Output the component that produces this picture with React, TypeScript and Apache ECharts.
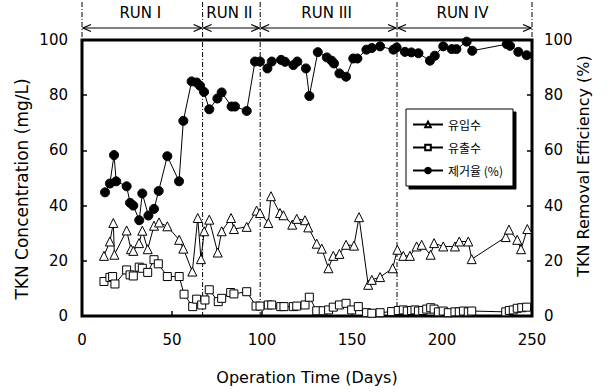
import { useEffect, useRef } from "react";
import * as echarts from "echarts";

const influentDays = [12.2, 15.5, 17.4, 18, 24.8, 27.2, 28.5, 31.7, 33.5, 36.5, 40, 42.8, 47.4, 54, 56.3, 61.3, 64.3, 66.1, 67.9, 70.7, 75.4, 77.6, 82.8, 84.4, 91.5, 97, 98.9, 103.5, 105, 110, 111.9, 116.8, 119.3, 123.9, 125.7, 130.4, 133.2, 136.9, 139.6, 143, 146.7, 151.1, 153.9, 159, 161, 165.6, 172.6, 175.2, 178.5, 182.2, 185.9, 188.7, 193.7, 195.6, 200.7, 207.2, 209.6, 214.6, 216.5, 235.4, 237.2, 241.8, 243.9, 247.4];
const influentValues = [21.8, 27, 33.7, 22.2, 31, 24.2, 23.6, 26.4, 30.9, 24.2, 32.7, 33.9, 32.5, 27.6, 24.4, 16.1, 35.5, 20.6, 30.7, 34.9, 23, 30.7, 35.5, 31.5, 32.3, 38.2, 37.3, 33.7, 43.4, 37.3, 36.5, 33.1, 35.2, 34.7, 32.1, 26.2, 24.4, 17.3, 21.8, 22.5, 25.8, 25.5, 35.8, 11.3, 13.1, 14.1, 17.3, 24, 21.8, 21.8, 25.2, 25.8, 22.2, 26.4, 25.2, 25.2, 27, 27, 20.6, 28.6, 31.3, 27.6, 24.2, 31.5];

const effluentDays = [12.2, 15.5, 17, 18.3, 24.8, 26.7, 28.5, 31.8, 33.5, 36.5, 40, 42.4, 47.4, 54, 56.7, 61.5, 63.7, 66.5, 68.3, 70.7, 75.7, 77.6, 82.6, 84.4, 91.5, 96.7, 98.9, 103.5, 105.4, 110.4, 112.2, 117.4, 119.3, 123.9, 126.3, 130.4, 134, 137, 139.6, 143, 146.7, 149.8, 153.5, 158.1, 161, 165.6, 172, 175.7, 178.5, 180.7, 183.1, 185, 186.9, 189.3, 191.5, 193.7, 195.6, 198, 200.7, 203.5, 207.2, 209.6, 211.9, 214.6, 216.5, 235.4, 237.4, 239.6, 241.8, 244.3, 247];
const effluentValues = [12.5, 14, 14.3, 11.6, 16.7, 14.9, 14.5, 17.7, 17.3, 15.8, 20.4, 18.9, 14.3, 14.3, 7.9, 3.4, 6.1, 4, 5.8, 9.5, 5.2, 6.4, 8.5, 8, 8.8, 3.6, 3.6, 4, 4, 3.4, 3.4, 3.4, 3.6, 4, 6.8, 1.9, 1.9, 2.2, 3.2, 4, 4.6, 2.2, 3.4, 1.2, 1, 1.2, 1.6, 2, 2.2, 1.8, 2, 2.2, 1.8, 2, 2.5, 3, 2.5, 1.5, 1.8, 1.2, 1.5, 1.5, 1.8, 1.5, 1.8, 1.5, 2, 2.2, 2.8, 3, 3.2];

const removalDays = [12.8, 15.5, 17.8, 19, 24.8, 26.7, 28.5, 31.8, 33.5, 36.9, 40, 42.6, 47.4, 53.9, 56.3, 60.9, 63.7, 65.6, 67.8, 70.7, 75.2, 77.6, 83.1, 85, 91.5, 96.1, 98.9, 103, 105.4, 110.6, 112.8, 117.4, 119.6, 124.4, 126.3, 131, 136, 138.7, 140, 143, 146.7, 150.7, 153, 158, 161, 165.6, 173, 174.8, 179.4, 183, 186.9, 193.3, 196, 200.7, 205.4, 208, 213.7, 216.8, 236, 237.8, 242.4, 247];
const removalValues = [44.8, 48, 58.3, 48.8, 47, 41, 40, 34.7, 44.4, 36.4, 38.8, 45.3, 57.9, 48.8, 70.7, 85, 84.6, 83.4, 81.2, 74.9, 78.8, 81, 75.9, 75.9, 74.3, 92.2, 92.2, 89.7, 92.2, 92.8, 92.1, 90.9, 92.2, 89.7, 79.7, 95.6, 93.7, 92.5, 91.5, 87.9, 86.7, 93.3, 93.3, 96.5, 97.1, 97.7, 96.5, 97.3, 95.7, 95.5, 95.2, 92.5, 94.3, 97.7, 96.7, 96.7, 99.4, 96.1, 98.5, 97.9, 95.7, 94.5];

const seriesNames = ["유입수", "유출수", "제거율 (%)"];
const runBounds = [0, 67, 99, 175, 250];
const runLabels = ["RUN I", "RUN II", "RUN III", "RUN IV"];

const xName = "Operation Time (Days)";
const yLeftName = "TKN Concentration (mg/L)";
const yRightName = "TKN Removal Efficiency (%)";

const pair = (d: number[], v: number[]) => d.map((x, i) => [x, v[i]]);
const FONT = "DejaVu Sans, sans-serif";
const KFONT = "Noto Sans CJK KR, sans-serif";

export default function App() {
  const ref = useRef<HTMLDivElement>(null);
  useEffect(() => {
    if (!ref.current) return;
    const chart = echarts.init(ref.current, undefined, { renderer: "svg" });
    const tick = { show: true, inside: true, length: 5, lineStyle: { color: "#000", width: 1.5 } };
    const yCommon = {
      type: "value" as const,
      min: 0,
      max: 100,
      interval: 20,
      splitLine: { show: false },
      axisLine: { show: false },
      axisTick: tick,
    };
    chart.setOption({
      animation: false,
      backgroundColor: "#fff",
      grid: { left: 82, right: 79, top: 40, bottom: 76, show: true, borderColor: "#000", borderWidth: 3 },
      xAxis: {
        type: "value",
        min: 0,
        max: 250,
        interval: 50,
        splitLine: { show: false },
        axisLine: { show: false },
        axisTick: tick,
        axisLabel: { color: "#000", fontSize: 15, fontFamily: FONT, margin: 16 },
        name: xName,
        nameLocation: "middle",
        nameGap: 53,
        nameTextStyle: { color: "#000", fontSize: 16, fontFamily: FONT },
      },
      yAxis: [
        { ...yCommon, position: "left", axisLabel: { color: "#000", fontSize: 15, fontFamily: FONT, margin: 14 } },
        { ...yCommon, position: "right", axisLabel: { color: "#000", fontSize: 15, fontFamily: FONT, margin: 12 } },
      ],
      legend: {
        orient: "vertical",
        left: 406,
        top: 109,
        itemWidth: 30,
        itemHeight: 7,
        itemGap: 6,
        padding: [7, 10, 7, 6],
        borderColor: "#000",
        borderWidth: 1,
        backgroundColor: "#fff",
        shadowColor: "#000",
        shadowBlur: 0,
        shadowOffsetX: 3,
        shadowOffsetY: 3,
        textStyle: { color: "#000", fontSize: 12, fontFamily: KFONT, lineHeight: 17 },
        data: seriesNames,
      },
      series: [
        {
          name: seriesNames[0],
          type: "line",
          yAxisIndex: 0,
          data: pair(influentDays, influentValues),
          symbol: "triangle",
          symbolSize: 9,
          lineStyle: { color: "#000", width: 1 },
          itemStyle: { color: "#fff", borderColor: "#000", borderWidth: 1 },
          z: 3,
        },
        {
          name: seriesNames[1],
          type: "line",
          yAxisIndex: 0,
          data: pair(effluentDays, effluentValues),
          symbol: "rect",
          symbolSize: 8,
          lineStyle: { color: "#000", width: 1 },
          itemStyle: { color: "#fff", borderColor: "#000", borderWidth: 1 },
          z: 2,
        },
        {
          name: seriesNames[2],
          type: "line",
          yAxisIndex: 1,
          data: pair(removalDays, removalValues),
          symbol: "circle",
          symbolSize: 9,
          lineStyle: { color: "#000", width: 1 },
          itemStyle: { color: "#000", borderColor: "#000", borderWidth: 1 },
          z: 4,
        },
      ],
    });

    const px = (d: number) => chart.convertToPixel({ xAxisIndex: 0 }, d) as number;
    const yTop = chart.convertToPixel({ yAxisIndex: 0 }, 100) as number;
    const yBot = chart.convertToPixel({ yAxisIndex: 0 }, 0) as number;
    const arrowY = yTop - 12;
    const dash = [5, 2, 1, 2];
    const elems: any[] = [];
    runBounds.forEach((b, i) => {
      const x = px(b);
      const interior = i > 0 && i < runBounds.length - 1;
      elems.push({
        type: "line",
        shape: { x1: x, y1: 2, x2: x, y2: interior ? yBot : yTop },
        style: { stroke: "#000", lineWidth: 1, lineDash: dash },
        z: 1,
      });
    });
    for (let i = 0; i < runLabels.length; i++) {
      const x0 = px(runBounds[i]) + 1;
      const x1 = px(runBounds[i + 1]) - 1;
      elems.push({ type: "line", shape: { x1: x0, y1: arrowY, x2: x1, y2: arrowY }, style: { stroke: "#000", lineWidth: 1 } });
      elems.push({ type: "polyline", shape: { points: [[x0 + 8, arrowY - 3.5], [x0, arrowY], [x0 + 8, arrowY + 3.5]] }, style: { stroke: "#000", lineWidth: 1.3, fill: "none" } });
      elems.push({ type: "polyline", shape: { points: [[x1 - 8, arrowY - 3.5], [x1, arrowY], [x1 - 8, arrowY + 3.5]] }, style: { stroke: "#000", lineWidth: 1.3, fill: "none" } });
      elems.push({
        type: "text",
        x: (x0 + x1) / 2 - 2,
        y: arrowY - 15,
        style: { text: runLabels[i], fill: "#000", font: `15px ${FONT}`, align: "center", verticalAlign: "middle" },
      });
    }
    const yMid = (yTop + yBot) / 2;
    elems.push({
      type: "text",
      x: px(0) - 60,
      y: yMid + 11,
      rotation: Math.PI / 2,
      style: { text: yLeftName, fill: "#000", font: `17px ${FONT}`, align: "center", verticalAlign: "middle" },
    });
    elems.push({
      type: "text",
      x: px(250) + 51,
      y: yMid - 12,
      rotation: Math.PI / 2,
      style: { text: yRightName, fill: "#000", font: `16px ${FONT}`, align: "center", verticalAlign: "middle" },
    });
    chart.setOption({ graphic: elems });
    return () => chart.dispose();
  }, []);
  return <div ref={ref} style={{ position: "fixed", left: 0, top: 0, width: 611, height: 392 }} />;
}
